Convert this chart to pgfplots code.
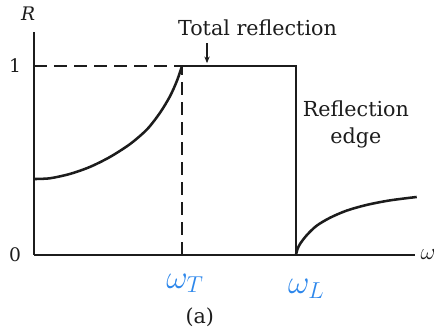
\documentclass[border=0pt]{standalone}
\usepackage{fontspec}
\setmainfont{DejaVu Serif}
\usepackage{pgfplots}
\usetikzlibrary{arrows.meta}
\pgfplotsset{compat=1.18}
\definecolor{ink}{RGB}{28,28,28}
\definecolor{pen}{RGB}{45,135,235}

\begin{document}
\begin{tikzpicture}[x=0.75pt,y=0.75pt]
\begin{axis}[
  x=111pt, y=141.75pt,
  xmin=0, xmax=2.574, ymin=0, ymax=1.18,
  axis lines=left,
  axis line style={ink, line width=1.5pt, -},
  major tick length=0pt,
  xtick=\empty,
  ytick={0,1},
  /pgf/number format/assume math mode=true,
  yticklabel style={anchor=center, xshift=-14.25pt, font=\fontsize{14}{16}\selectfont, text=ink},
  clip=false,
]
% reflectivity below the transverse resonance
\addplot[ink, line width=1.9pt, smooth] coordinates {
  (0,0.402) (0.108,0.406) (0.243,0.429) (0.378,0.466) (0.514,0.519)
  (0.649,0.587) (0.764,0.665) (0.851,0.752) (0.919,0.840) (0.966,0.922) (1,1)};
% reststrahlen band and reflection edge
\addplot[ink, line width=1.9pt, sharp plot] coordinates {(1,1) (1.77,1) (1.77,0)};
% recovery above the longitudinal frequency
\addplot[ink, line width=1.9pt, smooth] coordinates {
  (1.770,0) (1.779,0.028) (1.797,0.058) (1.843,0.105) (1.910,0.155) (2.0,0.197)
  (2.113,0.235) (2.248,0.265) (2.405,0.289) (2.586,0.307)};
% guide lines
\addplot[ink, line width=1.1pt, dash pattern=on 10pt off 5pt] coordinates {(0,1) (1,1)};
\addplot[ink, line width=1.1pt, dash pattern=on 10pt off 5pt] coordinates {(1,0) (1,1)};

\coordinate (o) at (axis cs:0,0);
\node[text=ink, font=\fontsize{14}{16}\selectfont\itshape] at (axis cs:-0.04,1.275) {R};
\node[text=ink, font=\fontsize{15.5}{18}\selectfont] at (axis cs:1.51,1.20) {Total reflection};
\draw[ink, line width=0.8pt, -{Stealth[length=5pt,width=4pt]}] (axis cs:1.169,1.12) -- (axis cs:1.169,1.015);
\node[text=ink, font=\fontsize{15.5}{18}\selectfont, align=center] at (axis cs:2.175,0.69) {Reflection\\[2pt]edge};
\node[text=ink, font=\fontsize{15.5}{18}\selectfont] at (axis cs:1.12,-0.33) {(a)};
\node[text=pen, font=\fontsize{24}{28}\selectfont] at (axis cs:1.02,-0.15) {$\omega_T$};
\node[text=pen, font=\fontsize{24}{28}\selectfont] at (axis cs:1.84,-0.18) {$\omega_L$};
\node[text=ink, font=\fontsize{17}{20}\selectfont, anchor=west, inner sep=0pt] at (axis cs:2.61,0.0) {$\omega$};
\end{axis}
\pgfresetboundingbox
\path[use as bounding box] (o) ++(-34,-79) rectangle ++(434,334);
\end{tikzpicture}
\end{document}
